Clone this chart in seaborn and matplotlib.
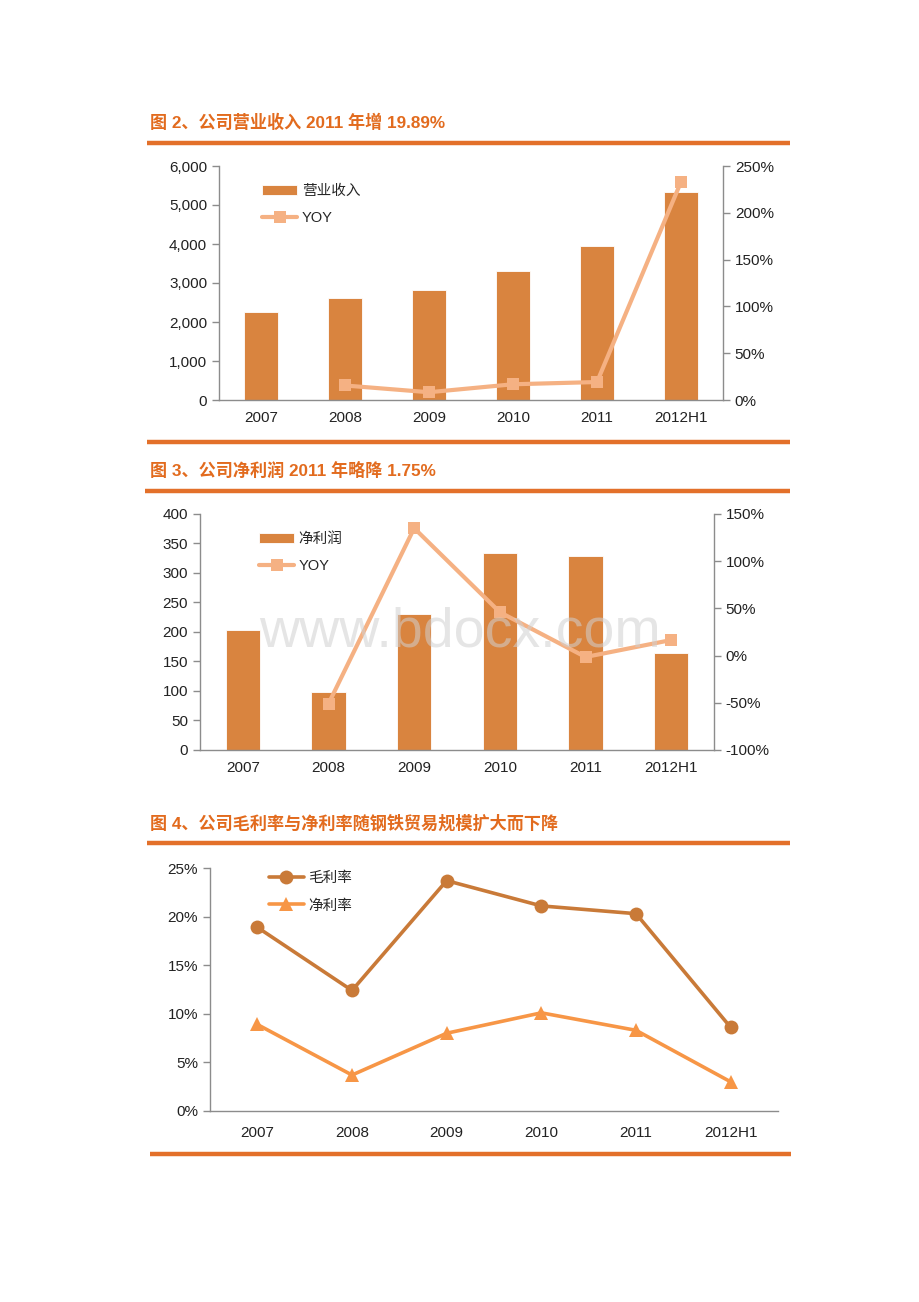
import numpy as np
import matplotlib
matplotlib.use("Agg")
import matplotlib.pyplot as plt
from matplotlib.lines import Line2D
from matplotlib.ticker import FuncFormatter, MultipleLocator
import seaborn as sns

# data
years = ['2007', '2008', '2009', '2010', '2011', '2012H1']
revenue = [2250, 2610, 2825, 3305, 3950, 5340]
revenue_yoy = [np.nan, 15.5, 8.3, 16.8, 19.2, 233.0]
profit = [203, 98, 231, 334, 329, 165]
profit_yoy = [np.nan, -51.0, 135.0, 46.0, -1.5, 16.5]
gross_margin = [18.9, 12.4, 23.7, 21.1, 20.3, 8.6]
net_margin = [8.9, 3.7, 8.0, 10.1, 8.3, 3.0]

titles = ['图 2、公司营业收入 2011 年增 19.89%',
          '图 3、公司净利润 2011 年略降 1.75%',
          '图 4、公司毛利率与净利率随钢铁贸易规模扩大而下降']

sns.set_theme(style='white')
plt.rcParams['font.family'] = ['Liberation Sans', 'Noto Sans CJK SC']

BAR = '#D9843F'
YOY = '#F5B183'
RULE = '#E3702A'
TITLE = '#E26B1E'
SPINE = '#8C8C8C'
TXT = '#222222'
FONTS = ['Liberation Sans', 'Noto Sans CJK SC']

W, H = 920, 1302
fig = plt.figure(figsize=(W / 100, H / 100), dpi=100)


def px_axes(l, t, r, b):
    return fig.add_axes([l / W, 1 - b / H, (r - l) / W, (b - t) / H])


def rule(y, x0=147, x1=790):
    fig.add_artist(Line2D([x0 / W, x1 / W], [1 - y / H, 1 - y / H],
                          color=RULE, lw=3.2, solid_capstyle='butt'))


def title(y, s):
    fig.text(150 / W, 1 - y / H, s, color=TITLE, fontsize=12.3,
             fontweight='bold', va='center', ha='left', family=FONTS)


def style_axes(ax, right=False, pad=8):
    for side in ['top', 'right', 'left', 'bottom']:
        ax.spines[side].set_visible(False)
    ax.spines['left'].set_visible(True)
    ax.spines['bottom'].set_visible(True)
    if right:
        ax.spines['right'].set_visible(True)
    for s in ax.spines.values():
        s.set_color(SPINE)
        s.set_linewidth(1.0)
    ax.set_xlim(-0.5, len(years) - 0.5)
    ax.set_xticks(range(len(years)))
    ax.set_xticklabels(years)
    ax.set_xticks(np.arange(-0.5, len(years)), minor=True)
    ax.tick_params(axis='x', which='major', length=0, pad=pad,
                   labelsize=11, labelcolor=TXT)
    ax.tick_params(axis='x', which='minor', length=5, width=1,
                   color=SPINE, direction='out')
    ax.tick_params(axis='y', which='major', length=5, width=1, color=SPINE,
                   direction='out', labelsize=11, labelcolor=TXT, left=True)
    ax.set_xlabel('')
    ax.set_ylabel('')
    ax.grid(False)
    if ax.get_legend() is not None:
        ax.get_legend().remove()


def style_twin(ax):
    for s in ax.spines.values():
        s.set_visible(False)
    ax.yaxis.set_major_locator(MultipleLocator(50))
    ax.yaxis.set_major_formatter(pct)
    ax.tick_params(axis='y', length=5, width=1, color=SPINE, direction='out',
                   labelsize=11, labelcolor=TXT, right=True)
    ax.set_ylabel('')
    ax.grid(False)


def legend(ax, handles, labels, anchor):
    ax.legend(handles, labels, loc='upper left', bbox_to_anchor=anchor,
              frameon=False, handlelength=2.4, handletextpad=0.3,
              labelspacing=0.9, prop={'family': FONTS, 'size': 10.5})


pct = FuncFormatter(lambda v, p: f'{v:.0f}%')

# ---- chart 1: revenue ----
title(122, titles[0])
rule(142.5)
ax1 = px_axes(219, 166, 723, 400)
sns.barplot(x=years, y=revenue, ax=ax1, color=BAR, saturation=1,
            width=0.4, edgecolor='white', linewidth=0.6, label='营业收入')
ax1.set_ylim(0, 6000)
ax1.yaxis.set_major_locator(MultipleLocator(1000))
ax1.yaxis.set_major_formatter(FuncFormatter(lambda v, p: f'{v:,.0f}'))
h1, l1 = ax1.get_legend_handles_labels()
style_axes(ax1, right=True)
ax1b = ax1.twinx()
sns.lineplot(x=np.arange(len(years)), y=revenue_yoy, ax=ax1b, color=YOY,
             lw=3, marker='s', markersize=9, markeredgewidth=0, label='YOY')
ax1b.set_ylim(0, 250)
style_twin(ax1b)
h2, l2 = ax1b.get_legend_handles_labels()
legend(ax1b, h1 + h2, l1 + l2, (0.06, 0.98))
rule(442)

# ---- chart 2: net profit ----
title(470, titles[1])
rule(491, 145, 790)
ax2 = px_axes(200, 514, 714, 750)
sns.barplot(x=years, y=profit, ax=ax2, color=BAR, saturation=1,
            width=0.4, edgecolor='white', linewidth=0.6, label='净利润')
ax2.set_ylim(0, 400)
ax2.yaxis.set_major_locator(MultipleLocator(50))
h1, l1 = ax2.get_legend_handles_labels()
style_axes(ax2, right=True)
ax2b = ax2.twinx()
sns.lineplot(x=np.arange(len(years)), y=profit_yoy, ax=ax2b, color=YOY,
             lw=3, marker='s', markersize=9, markeredgewidth=0, label='YOY')
ax2b.set_ylim(-100, 150)
style_twin(ax2b)
h2, l2 = ax2b.get_legend_handles_labels()
legend(ax2b, h1 + h2, l1 + l2, (0.09, 0.98))
fig.text(460 / W, 1 - 632 / H, 'www.bdocx.com', fontsize=40,
         color='#D0D0D0', alpha=0.55, ha='center', va='center',
         family='Liberation Sans', zorder=10)

# ---- chart 3: margins ----
title(823, titles[2])
rule(843)
ax3 = px_axes(210, 868, 778, 1111)
sns.lineplot(x=np.arange(len(years)), y=gross_margin, ax=ax3,
             color='#C97A38', lw=2.6, marker='o', markersize=10,
             markeredgewidth=0, label='毛利率')
sns.lineplot(x=np.arange(len(years)), y=net_margin, ax=ax3,
             color='#F79646', lw=2.6, marker='^', markersize=10,
             markeredgewidth=0, label='净利率')
ax3.set_ylim(0, 25)
ax3.yaxis.set_major_locator(MultipleLocator(5))
ax3.yaxis.set_major_formatter(pct)
h3, l3 = ax3.get_legend_handles_labels()
style_axes(ax3, pad=11)
legend(ax3, h3, l3, (0.08, 1.04))
rule(1154, 150, 791)

fig.savefig('out.png', dpi=100)
